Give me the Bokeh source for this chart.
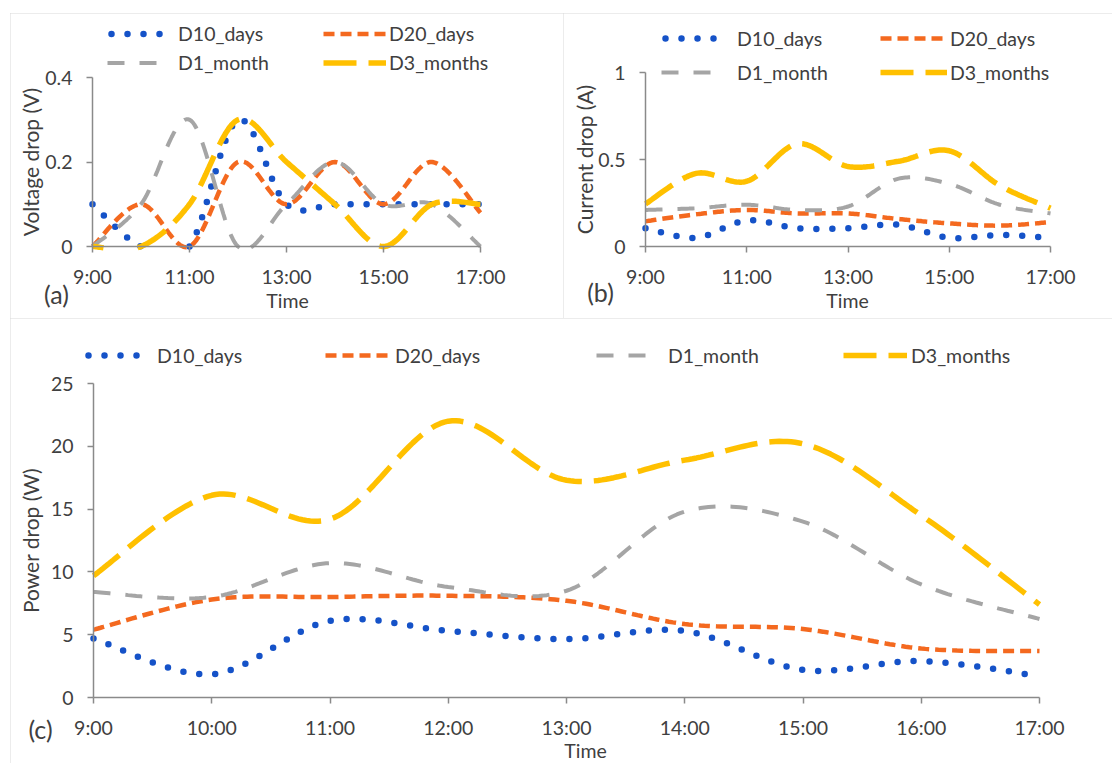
import numpy as np
from bokeh.plotting import figure
from bokeh.models import Range1d, FixedTicker, Legend, LegendItem, Label, Spacer
from bokeh.layouts import column, row
from bokeh.embed import file_html
from bokeh.resources import INLINE

# ---------------- data ----------------
hours = [9, 10, 11, 12, 13, 14, 15, 16, 17]
series_names = ["D10_days", "D20_days", "D1_month", "D3_months"]

volt_d10 = [0.10, 0.00, 0.00, 0.30, 0.10, 0.10, 0.10, 0.10, 0.10]
volt_d20 = [0.00, 0.10, 0.00, 0.20, 0.10, 0.20, 0.10, 0.20, 0.08]
volt_d1 = [0.00, 0.10, 0.30, 0.00, 0.10, 0.20, 0.10, 0.10, 0.00]
volt_d3 = [0.00, 0.00, 0.10, 0.30, 0.20, 0.10, 0.00, 0.10, 0.10]

curr_d10 = [0.105, 0.05, 0.15, 0.105, 0.105, 0.125, 0.05, 0.066, 0.05]
curr_d20 = [0.145, 0.185, 0.21, 0.19, 0.19, 0.158, 0.133, 0.12, 0.14]
curr_d1 = [0.21, 0.22, 0.24, 0.21, 0.23, 0.39, 0.36, 0.24, 0.19]
curr_d3 = [0.245, 0.42, 0.375, 0.59, 0.46, 0.49, 0.55, 0.35, 0.22]

pow_d10 = [4.7, 1.85, 6.1, 5.3, 4.65, 5.3, 2.2, 2.9, 1.7]
pow_d20 = [5.4, 7.8, 8.0, 8.1, 7.7, 5.85, 5.45, 3.9, 3.7]
pow_d1 = [8.4, 8.0, 10.7, 8.8, 8.5, 14.8, 14.0, 9.0, 6.25]
pow_d3 = [9.7, 16.1, 14.2, 22.0, 17.3, 18.9, 20.2, 14.5, 7.4]

xticks_ab = [9, 11, 13, 15, 17]
xlabels_ab = ["9:00", "11:00", "13:00", "15:00", "17:00"]
xticks_c = [9, 10, 11, 12, 13, 14, 15, 16, 17]
xlabels_c = ["9:00", "10:00", "11:00", "12:00", "13:00", "14:00", "15:00", "16:00", "17:00"]
yticks_a = [0, 0.2, 0.4]
ylabels_a = ["0", "0.2", "0.4"]
yticks_b = [0, 0.5, 1]
ylabels_b = ["0", "0.5", "1"]
yticks_c = [0, 5, 10, 15, 20, 25]
ylabels_c = ["0", "5", "10", "15", "20", "25"]

# ---------------- styles ----------------
FONT = "Lato"
TXT = "#404040"
AX = "#8a8a8a"
STY = {
    "D10_days": dict(line_color="#1552C8", line_width=6.5, line_dash="0 16", line_cap="round"),
    "D20_days": dict(line_color="#F4691F", line_width=4.5, line_dash="11 6", line_cap="butt"),
    "D1_month": dict(line_color="#A5A5A5", line_width=4, line_dash="17 15", line_cap="butt"),
    "D3_months": dict(line_color="#FFC000", line_width=5.5, line_dash="33 12", line_cap="butt"),
}
LEG_OFFSET = {"D10_days": 12}


def smooth(xs, ys, n=30):
    """Excel-like smoothed line (Catmull-Rom Bezier) through the data points."""
    P = np.column_stack([xs, ys]).astype(float)
    E = np.vstack([P[0], P, P[-1]])
    ox, oy = [], []
    m = len(P) - 1
    for i in range(m):
        p0, p1, p2, p3 = E[i], E[i + 1], E[i + 2], E[i + 3]
        c1 = p1 + (p2 - p0) / 6.0
        c2 = p2 - (p3 - p1) / 6.0
        t = np.linspace(0, 1, n, endpoint=(i == m - 1))[:, None]
        b = ((1 - t) ** 3) * p1 + 3 * ((1 - t) ** 2) * t * c1 + 3 * (1 - t) * t ** 2 * c2 + t ** 3 * p2
        ox.extend(b[:, 0])
        oy.extend(b[:, 1])
    return np.array(ox), np.array(oy)


class Panel:
    def __init__(self, width, height, fig_x, fig_y, ax_x0, ax_x1, ax_y0, ax_y1, ymax,
                 xticks, xlabels, yticks, ylabels, ylabel, ylabel_standoff):
        # ax_*: page pixel positions of 9:00, 17:00, y=0 and y=ymax in the reference
        self.fx, self.fy, self.w, self.h = fig_x, fig_y, width, height
        ppx = (ax_x1 - ax_x0) / 8.0
        ppu = (ax_y0 - ax_y1) / ymax
        self.ppu = ppu
        p = figure(width=width, height=height,
                   x_range=Range1d(9 - (ax_x0 - fig_x) / ppx, 17 + (fig_x + width - ax_x1) / ppx),
                   y_range=Range1d(-(fig_y + height - ax_y0) / ppu, ymax + (ax_y1 - fig_y) / ppu),
                   min_border_left=0, min_border_right=0, min_border_top=0, min_border_bottom=0,
                   output_backend="svg", toolbar_location=None)
        p.outline_line_color = None
        p.xgrid.visible = False
        p.ygrid.visible = False
        p.styles = {"outline": "1.5px solid #d9d9d9", "outline-offset": "-1px"}
        for ax in (p.xaxis[0], p.yaxis[0]):
            ax.axis_line_color = AX
            ax.axis_line_width = 1.5
            ax.major_tick_line_color = AX
            ax.major_tick_line_width = 1.5
            ax.major_tick_in = 0
            ax.major_tick_out = 6
            ax.minor_tick_line_color = None
            ax.major_label_text_font = FONT
            ax.major_label_text_font_size = "19.5px"
            ax.major_label_text_color = TXT
        xa = p.xaxis[0]
        xa.ticker = FixedTicker(ticks=xticks)
        xa.major_label_overrides = {t: l for t, l in zip(xticks, xlabels)}
        xa.bounds = (9, 17)
        xa.fixed_location = 0
        xa.major_label_standoff = 12
        ya = p.yaxis[0]
        ya.ticker = FixedTicker(ticks=yticks)
        ya.major_label_overrides = {t: l for t, l in zip(yticks, ylabels)}
        ya.bounds = (0, ymax)
        ya.fixed_location = 9
        ya.major_label_standoff = 14
        ya.axis_label = ylabel
        ya.axis_label_text_font = FONT
        ya.axis_label_text_font_size = "21px"
        ya.axis_label_text_font_style = "normal"
        ya.axis_label_text_color = TXT
        ya.axis_label_standoff = ylabel_standoff
        self.p = p
        self.rs = {}
        self.leg_rs = {}

    def draw(self, series):
        floor = -1.5 / self.ppu   # plot-area clipping just below the zero line
        for name, ys in zip(series_names, series):
            sx, sy = smooth(hours, ys)
            sy = np.where(sy < floor, np.nan, sy)
            self.rs[name] = self.p.line(sx, sy, **STY[name])
            # legend-only proxy with the same style (no visible data)
            st = dict(STY[name])
            st["line_dash_offset"] = LEG_OFFSET.get(name, 0)
            self.leg_rs[name] = self.p.line([np.nan], [np.nan], **st)

    def legend(self, names, x_page, top_page, pitch, glyph_w, standoff):
        bottom_page = top_page + pitch * len(names)
        leg = Legend(items=[LegendItem(label=n, renderers=[self.leg_rs[n]]) for n in names],
                     location=(x_page - self.fx, self.fy + self.h - bottom_page),
                     orientation="vertical", glyph_width=glyph_w, glyph_height=pitch,
                     label_height=pitch, label_standoff=standoff, spacing=0, padding=0, margin=0,
                     border_line_color=None, background_fill_alpha=0,
                     label_text_font=FONT, label_text_font_size="19.5px", label_text_color=TXT)
        self.p.add_layout(leg)

    def text(self, text, x_page, y_page, size):
        self.p.add_layout(Label(x=x_page - self.fx, y=self.fy + self.h - y_page,
                                x_units="screen", y_units="screen",
                                text=text, text_align="center", text_baseline="middle",
                                text_font=FONT, text_font_size=size, text_color=TXT))


# ---------------- panel (a) ----------------
A = Panel(553, 305, 10, 13, 92, 480, 246, 77, 0.4,
          xticks_ab, xlabels_ab, yticks_a, ylabels_a, "Voltage drop (V)", -1)
A.draw([volt_d10, volt_d20, volt_d1, volt_d3])
A.legend(["D10_days", "D1_month"], 107, 18.5, 29, 56, 15)
A.legend(["D20_days", "D3_months"], 323, 18.5, 29, 63, 3)
A.text("Time", 287, 300, "19.5px")
A.text("(a)", 56, 293, "25px")

# ---------------- panel (b) ----------------
B = Panel(549, 305, 563, 13, 645, 1050, 246, 72, 1.0,
          xticks_ab, xlabels_ab, yticks_b, ylabels_b, "Current drop (A)", -2)
B.draw([curr_d10, curr_d20, curr_d1, curr_d3])
B.legend(["D10_days", "D1_month"], 661, 21, 34, 58, 18)
B.legend(["D20_days", "D3_months"], 880, 21, 34, 67, 3)
B.text("Time", 847, 300, "19.5px")
B.text("(b)", 600, 291, "25px")

# ---------------- panel (c) ----------------
C = Panel(1102, 445, 10, 318, 93, 1039, 697, 383, 25,
          xticks_c, xlabels_c, yticks_c, ylabels_c, "Power drop (W)", 5)
C.draw([pow_d10, pow_d20, pow_d1, pow_d3])
C.legend(["D10_days"], 84, 340, 30, 58, 15)
C.legend(["D20_days"], 325, 340, 30, 67, 3)
C.legend(["D1_month"], 596, 340, 30, 54, 18)
C.legend(["D3_months"], 843, 340, 30, 64, 4)
C.text("Time", 585, 750, "19.5px")
C.text("(c)", 40, 728, "25px")

layout = column(
    Spacer(width=10, height=13),
    row(Spacer(width=10, height=305), A.p, B.p),
    row(Spacer(width=10, height=445), C.p),
)
open("out.html", "w").write(file_html(layout, INLINE))
